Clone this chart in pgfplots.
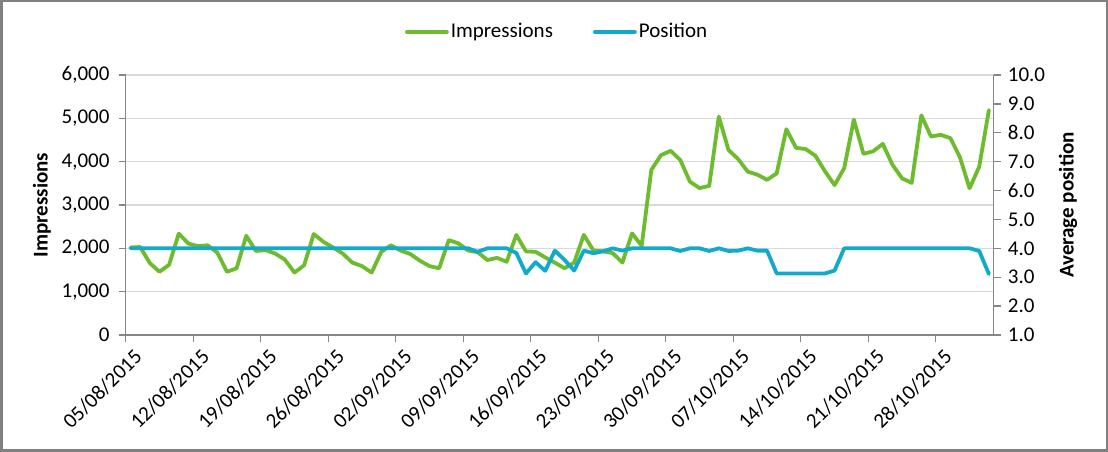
\documentclass[border=0pt]{standalone}
\usepackage{pgfplots}
\usepackage{pgfplotstable}
\pgfplotsset{compat=1.18}
\usepackage{fontspec}
\setmainfont{Carlito}
\definecolor{impgreen}{RGB}{108,188,46}
\definecolor{posblue}{RGB}{18,170,200}
\definecolor{axgray}{RGB}{134,134,134}
\definecolor{gridgray}{RGB}{217,217,217}
\definecolor{framegray}{RGB}{128,128,128}

\pgfplotstableread{
day imp pos
0 2020 4.0
1 2030 4.0
2 1660 4.0
3 1460 4.0
4 1620 4.0
5 2340 4.0
6 2110 4.0
7 2050 4.0
8 2070 4.0
9 1900 4.0
10 1460 4.0
11 1540 4.0
12 2290 4.0
13 1940 4.0
14 1960 4.0
15 1880 4.0
16 1740 4.0
17 1440 4.0
18 1610 4.0
19 2330 4.0
20 2150 4.0
21 2020 4.0
22 1880 4.0
23 1670 4.0
24 1590 4.0
25 1440 4.0
26 1920 4.0
27 2070 4.0
28 1950 4.0
29 1870 4.0
30 1715 4.0
31 1590 4.0
32 1540 4.0
33 2190 4.0
34 2115 4.0
35 1950 4.0
36 1910 3.88
37 1730 4.0
38 1780 4.0
39 1690 4.0
40 2310 3.84
41 1930 3.13
42 1920 3.52
43 1790 3.22
44 1670 3.92
45 1540 3.6
46 1670 3.23
47 2310 3.92
48 1950 3.83
49 1930 3.9
50 1890 4.0
51 1670 3.92
52 2345 4.0
53 2060 4.0
54 3810 4.0
55 4150 4.0
56 4250 4.0
57 4040 3.91
58 3540 4.0
59 3390 4.0
60 3440 3.91
61 5040 4.0
62 4270 3.91
63 4060 3.92
64 3770 4.0
65 3700 3.92
66 3580 3.92
67 3730 3.13
68 4750 3.13
69 4320 3.13
70 4290 3.13
71 4140 3.13
72 3780 3.13
73 3460 3.23
74 3850 4.0
75 4970 4.0
76 4180 4.0
77 4240 4.0
78 4410 4.0
79 3930 4.0
80 3615 4.0
81 3510 4.0
82 5070 4.0
83 4580 4.0
84 4620 4.0
85 4545 4.0
86 4100 4.0
87 3385 4.0
88 3885 3.91
89 5190 3.11
}\datatable

\begin{document}
\fontsize{21bp}{25bp}\selectfont
\begin{tikzpicture}
\useasboundingbox (0,0) rectangle (1108bp,452bp);
\draw[framegray, line width=2.5bp] (1.25bp,1.25bp) rectangle (1106.75bp,450.75bp);
\pgfplotsset{
  common/.style={
    scale only axis,
    width=868bp, height=260bp,
    at={(125.7bp,117bp)}, anchor=south west,
    xmin=-0.5, xmax=89.5,
    tick align=outside,
    major tick length=7bp,
    axis line style={axgray, line width=1.3bp},
    every tick/.style={axgray, line width=1.3bp},
    /pgf/number format/assume math mode=true,
    tick label style={black},
  },
}
\begin{axis}[
  common,
  axis x line*=bottom,
  axis y line*=left,
  ymin=0, ymax=6000,
  ytick={0,1000,2000,3000,4000,5000,6000},
  scaled y ticks=false,
  yticklabel style={/pgf/number format/.cd, 1000 sep={,}, /tikz/.cd, xshift=-2bp},
  ymajorgrids,
  major grid style={gridgray, line width=1.2bp},
  xtick={-0.5,6.5,13.5,20.5,27.5,34.5,41.5,48.5,55.5,62.5,69.5,76.5,83.5},
  xticklabels={05/08/2015,12/08/2015,19/08/2015,26/08/2015,02/09/2015,09/09/2015,16/09/2015,23/09/2015,30/09/2015,07/10/2015,14/10/2015,21/10/2015,28/10/2015},
  xticklabel style={rotate=45, anchor=north east, inner sep=2bp, yshift=-7bp, xshift=3bp},
  ylabel={\bfseries Impressions},
  ylabel style={at={(axis description cs:-0.0964,0.5)}, anchor=center},
]
\addplot[impgreen, line width=3.8bp, line join=round, line cap=round] table[x=day, y=imp] {\datatable};
\end{axis}
\begin{axis}[
  common,
  axis x line=none,
  axis y line*=right,
  ymin=1, ymax=10,
  ytick={1,2,3,4,5,6,7,8,9,10},
  yticklabel style={/pgf/number format/.cd, fixed, fixed zerofill, precision=1},
  ylabel={\bfseries Average position},
  ylabel style={at={(axis description cs:1.0856,0.5)}, anchor=center},
  legend style={at={(axis description cs:0.497,1)}, anchor=center, yshift=43bp,
    draw=none, fill=none, legend columns=2,
    /tikz/every even column/.append style={column sep=38bp},
    nodes={inner sep=2bp}},
  legend image code/.code={\draw[#1] (0bp,0bp) -- (40bp,0bp);},
]
\addlegendimage{impgreen, line width=3.8bp, line cap=round}
\addlegendentry{Impressions}
\addplot[posblue, line width=3.8bp, line join=round, line cap=round] table[x=day, y=pos] {\datatable};
\addlegendentry{Position}
\end{axis}
\end{tikzpicture}
\end{document}
